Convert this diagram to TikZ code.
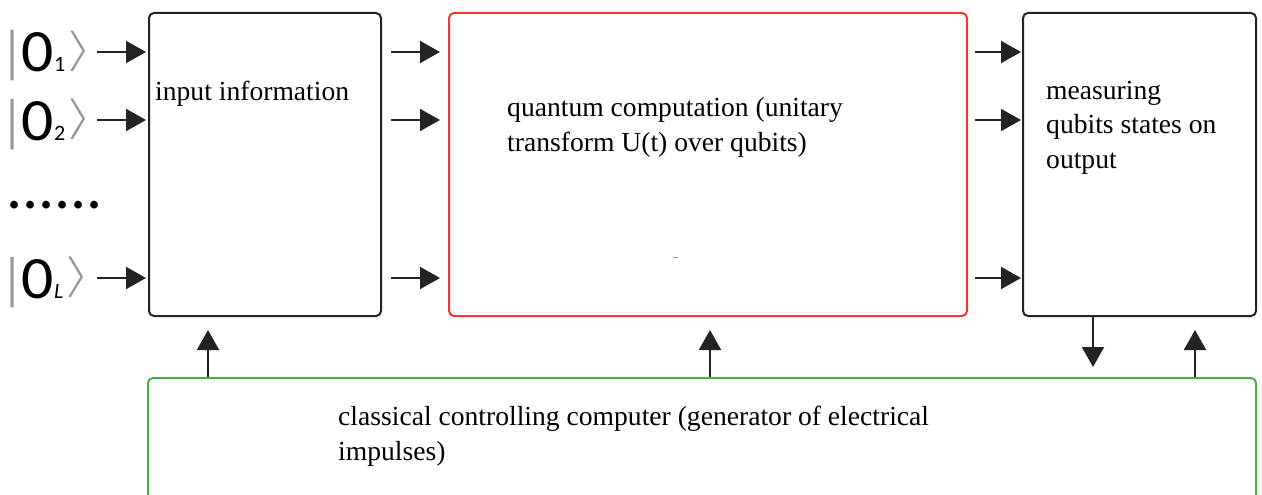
\documentclass[tikz,border=0pt]{standalone}
\usepackage{fontspec}
\usepackage{graphicx}
\setmainfont{Liberation Serif}
\newfontfamily\ketfont{Carlito}
\usetikzlibrary{arrows.meta}
\definecolor{qred}{RGB}{240,55,55}
\definecolor{cgreen}{RGB}{75,170,75}
\definecolor{dark}{RGB}{35,35,35}
\definecolor{ketgray}{RGB}{150,150,150}
\begin{document}
\begin{tikzpicture}[x=1pt,y=-1pt,
 box/.style={draw=dark, line width=2pt, rounded corners=5pt, inner sep=0pt, anchor=north west},
 arr/.style={draw=dark, line width=2pt, -{Triangle[length=20pt,width=22pt]}},
 lbl/.style={font=\fontsize{27.6}{34.5}\selectfont, align=left, anchor=base west, inner sep=0pt},
 ket/.style={font=\ketfont\fontsize{60}{60}\selectfont, inner sep=0pt, anchor=base west}]
\useasboundingbox[fill=white] (0,0) rectangle (1262,495);
% boxes
\node[box, minimum width=232pt, minimum height=303pt] (inp) at (148,12) {};
\node[box, draw=qred, minimum width=518pt, minimum height=303pt] (qc) at (448,12) {};
\node[box, minimum width=233pt, minimum height=303pt] (meas) at (1022,12) {};
\node[box, draw=cgreen, minimum width=1108pt, minimum height=140pt] (cc) at (147,377) {};
% rows
\coordinate (r1) at (97,52);
\coordinate (r2) at (97,120);
\coordinate (rL) at (97,278);
% kets
\newcommand{\ketsym}[1]{{\color{ketgray}\scalebox{0.8}[0.95]{|}}\hspace{-2pt}\scalebox{1.06}[1]{0}\hspace{0.5pt}{\fontsize{22}{22}\selectfont #1}\hspace{2pt}{\color{ketgray}\fontsize{10}{10}\selectfont\raisebox{10pt}{\scalebox{6.5}[4.1]{$\rangle$}}}}
\node[ket] (k1) at (1,72) {\ketsym{1}};
\node[ket] (k2) at (1,140) {\ketsym{2}};
\node[ket] (kL) at (1,298) {\ketsym{\itshape L}};
\node[font=\ketfont\fontsize{64}{64}\selectfont, inner sep=0pt, anchor=base west] (dots) at (6,208) {......};
% arrows between the stages
\foreach \r in {r1,r2,rL}{
  \draw[arr, shorten >=2pt] (\r) -- (\r -| inp.west);
  \draw[arr, shorten <=9pt, shorten >=8pt] (inp.east |- \r) -- (qc.west |- \r);
  \draw[arr, shorten <=7pt, shorten >=1pt] (qc.east |- \r) -- (meas.west |- \r);
}
% vertical arrows
\coordinate (v1) at (208,0);
\coordinate (v2) at (710,0);
\coordinate (v3) at (1093,0);
\coordinate (v4) at (1195,0);
\draw[arr, shorten >=13pt] (v1 |- cc.north) -- (v1 |- inp.south);
\draw[arr, shorten >=13pt] (v2 |- cc.north) -- (v2 |- qc.south);
\draw[arr, shorten >=10pt] (v3 |- meas.south) -- (v3 |- cc.north);
\draw[arr, shorten >=13pt] (v4 |- cc.north) -- (v4 |- meas.south);
% labels (anchored at the baseline of the last line)
\node[lbl] (t1) at (155,100) {input information};
\node[lbl] (t2) at (507,151) {quantum computation (unitary\\transform U(t) over qubits)};
\node[lbl] (t3) at (1046,168) {measuring\\qubits states on\\output};
\node[lbl] (t4) at (338,460) {classical controlling computer (generator of electrical\\impulses)};
% stray mark
\draw[ketgray, line width=1pt] (qc.center) ++(-35,93) coordinate (m1) -- ++(5,0);
\end{tikzpicture}
\end{document}
